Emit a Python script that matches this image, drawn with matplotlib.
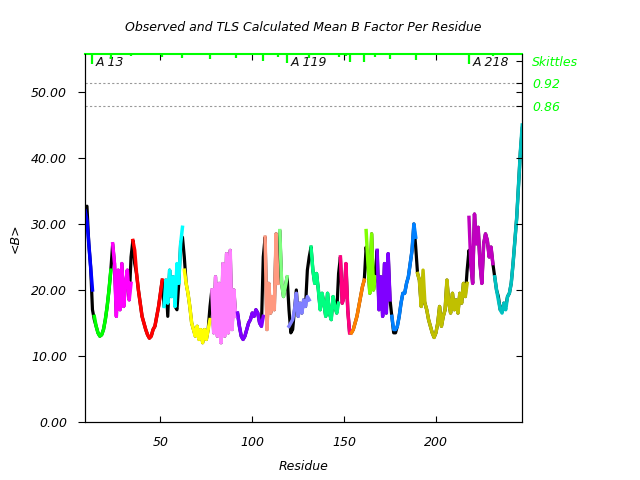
import matplotlib
matplotlib.use('Agg')
import matplotlib.pyplot as plt

# TLS groups: first residue, colour, calculated mean B per residue
group_start = [9, 14, 24, 35, 52, 63, 78, 92, 107, 115, 120, 132, 148, 154, 162, 168, 176, 190, 218, 232]
group_color = ['#0000ff', '#00ff00', '#ff00ff', '#ff0000', '#00ffff', '#ffff00', '#ff80ff', '#8000ff',
               '#ff9980', '#80ff80', '#8080ff', '#00ff80', '#ff0080', '#ff8000', '#80ff00', '#8000ff',
               '#0080ff', '#c0c000', '#c000c0', '#00c0c0']
group_calc = [
    [32, 30.5, 27, 23.5, 20],
    [16, 14.5, 13.5, 13, 13.2, 14, 15.5, 17.5, 20, 23],
    [27, 24, 16, 23, 17, 24, 17.5, 21, 23, 18.5, 21],
    [27.5, 26, 22.5, 20, 18, 16, 15, 14, 13.2, 12.7, 13, 14, 14.5, 16, 17.5, 19.5, 21.5],
    [17.5, 21.5, 18, 23, 19, 22, 17.5, 24, 21, 27, 29.5],
    [23, 21, 19.5, 17.5, 15, 14, 13, 14.5, 12.5, 14, 12, 14, 12.5, 14, 15.5],
    [20, 13.5, 22, 13, 21, 12, 24, 13, 25.5, 13.5, 26, 14, 20, 16],
    [16.5, 14.5, 13, 12.5, 13, 14, 15, 15.5, 16.5, 16, 17, 16.5, 15, 14.5, 16],
    [28, 14, 21, 16.5, 19, 17, 28.5, 21],
    [29, 21, 19, 20.5, 22],
    [14.5, 15, 15.5, 17, 19.5, 16, 18, 16.5, 18.5, 17.5, 19, 18.5],
    [26.5, 23, 21, 22.5, 20, 17, 19.5, 18, 16, 19.5, 16.5, 15.5, 19, 17.5, 16.5, 18],
    [25, 18, 19, 24, 17, 13.5],
    [13.5, 14, 15, 16, 17.5, 19, 20.5, 21.5],
    [29, 24, 19.5, 28.5, 20, 22],
    [26, 17, 22, 16, 24, 16.5, 25.5, 18.5],
    [16, 14, 14, 14.5, 16, 18, 19.5, 19.5, 21, 22, 24, 26, 30, 28],
    [22.5, 21.5, 17.5, 23, 18, 17, 15.5, 14.5, 13.5, 12.8, 13.5, 15, 17.5, 14.5, 16, 17, 21.5, 18,
     16.5, 19.5, 17, 18.5, 16.5, 19.5, 18, 21, 19, 21],
    [31, 24, 21, 31.5, 27, 29.5, 24, 21, 27, 28.5, 27.5, 25, 26.5, 24],
    [22, 20, 18.5, 17, 16.5, 18, 17, 19, 19.5, 21, 24, 27.5, 31, 36, 41, 45],
]

# observed mean B where it differs from the calculated one
obs_diff = {9: 32.5, 10: 32.7, 13: 17, 14: 15.5, 34: 25, 35: 27.5, 36: 24, 54: 16, 59: 17,
            62: 28, 63: 25, 77: 17.5, 106: 25, 120: 17, 121: 13.5, 122: 14, 124: 20, 130: 23,
            131: 25, 147: 22.5, 162: 26.5, 177: 13.5, 178: 13.5, 189: 26.5, 193: 19, 217: 23,
            218: 26, 234: 19, 236: 17, 238: 17.5, 247: 44.5}

# skittles markers along the top
skittle_res = [13, 23, 34, 51, 62, 77, 91, 106, 114, 119, 131, 147, 151, 153, 161, 167, 175, 189, 218, 231]
skittle_len = [1.5, 0.8, 0.3, 0.45, 0.6, 0.8, 0.6, 1.05, 0.45, 1.35, 0.6, 0.45, 0.3, 1.2, 1.2, 0.45,
               0.8, 0.9, 1.5, 0.3]
chain_labels = {13: 'A 13', 119: 'A 119', 218: 'A 218'}

ymax = 55.8
skittle_levels = [54.7, 51.4, 47.9]
skittle_names = ['Skittles', '0.92', '0.86']

# residues for every group
group_res = []
for start, vals in zip(group_start, group_calc):
    group_res.append(list(range(start, start + len(vals))))

residues = [r for rr in group_res for r in rr]
calc = [v for vv in group_calc for v in vv]
obs = [obs_diff.get(r, v) for r, v in zip(residues, calc)]

fig = plt.figure(figsize=(6.4, 4.8), dpi=100)
ax = fig.add_axes([0.133, 0.121, 0.683, 0.767])

green = '#00ff00'
font = dict(style='italic', size=9)

# observed in black, calculated per TLS group in colour
ax.plot(residues, obs, color='black', linewidth=2.3, zorder=2)
for rr, vals, c in zip(group_res, group_calc, group_color):
    ax.plot(rr, vals, color=c, linewidth=2.5, zorder=3)

# dotted reference lines
for lev in skittle_levels[1:]:
    ax.axhline(lev, color='#999999', linestyle=(0, (2, 2)), linewidth=0.8, zorder=1)

# skittles ticks hanging from the top edge
for r, h in zip(skittle_res, skittle_len):
    ax.vlines(r, ymax - h, ymax, color=green, linewidth=1.6, zorder=4)
for r, txt in chain_labels.items():
    ax.text(r + 2, 54.4, txt, ha='left', va='center', color='#111111', **font)

ax.set_xlim(9, 247)
ax.set_ylim(0, ymax)
ax.set_xticks([50, 100, 150, 200])
ax.set_yticks([0, 10, 20, 30, 40, 50])
ax.set_yticklabels(['%.2f' % v for v in [0, 10, 20, 30, 40, 50]])
for lab in ax.get_xticklabels() + ax.get_yticklabels():
    lab.set_fontstyle('italic')
    lab.set_fontsize(9)
ax.tick_params(axis='x', direction='in', top=True, length=4, pad=10)
ax.tick_params(axis='y', direction='out', length=5, pad=8)
ax.spines['top'].set_color(green)
ax.spines['top'].set_linewidth(1.5)

# right axis with skittles labels
ax2 = ax.twinx()
ax2.set_ylim(0, ymax)
ax2.set_yticks([10, 20, 30, 40, 50] + skittle_levels)
ax2.set_yticklabels([''] * 5 + skittle_names)
for lab in ax2.get_yticklabels():
    lab.set_color(green)
    lab.set_fontstyle('italic')
    lab.set_fontsize(9)
ax2.tick_params(axis='y', direction='in', length=4, pad=7)
ax2.spines['top'].set_visible(False)

ax.set_title('Observed and TLS Calculated Mean B Factor Per Residue', pad=16.5, **font)
ax.set_xlabel('Residue', labelpad=8, **font)
ax.set_ylabel('<B>', labelpad=7, **font)

fig.savefig('out.png', dpi=100)
